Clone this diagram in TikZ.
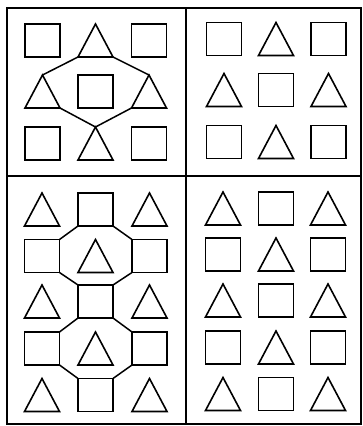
\documentclass[tikz,border=0pt]{standalone}
\begin{document}
\begin{tikzpicture}[x=1pt,y=-1pt,
  cell/.style={minimum width=35pt,minimum height=33pt,inner sep=0pt,outer sep=0pt},
  shape0/.style={cell,draw,line width=1.6pt},
  shape1/.style={cell},
  tri/.style={line width=1.6pt},
  link/.style={line width=1.5pt},
  frame/.style={line width=1.3pt}]
\useasboundingbox (0,0) rectangle (363,426);
% frame
\draw[frame] (7,8) rectangle (361,424);
\draw[frame] (186,8) -- (186,424);
\draw[frame] (7,176) -- (361,176);
% top-left quadrant
\foreach \r/\y in {1/40.5,2/91.5,3/143.5}
  \foreach \c/\x in {1/42.5,2/95.5,3/149}{
    \pgfmathsetmacro\k{int(mod(\r+\c,2))}
    \node[shape\k] (a\r\c) at (\x,\y) {};
  }
% top-right quadrant
\foreach \r/\y in {1/39,2/90,3/142}
  \foreach \c/\x in {1/224,2/276,3/328.5}{
    \pgfmathsetmacro\k{int(mod(\r+\c,2))}
    \node[shape\k] (b\r\c) at (\x,\y) {};
  }
% bottom-left quadrant
\foreach \r/\y in {1/209.5,2/256,3/301.5,4/348.5,5/395}
  \foreach \c/\x in {1/42,2/95.5,3/149.5}{
    \pgfmathsetmacro\k{int(mod(\r+\c+1,2))}
    \node[shape\k] (c\r\c) at (\x,\y) {};
  }
% bottom-right quadrant
\foreach \r/\y in {1/208.5,2/254.5,3/300.5,4/347.5,5/394}
  \foreach \c/\x in {1/223,2/276,3/328}{
    \pgfmathsetmacro\k{int(mod(\r+\c+1,2))}
    \node[shape\k] (d\r\c) at (\x,\y) {};
  }
% triangles
\foreach \n in {a12,a21,a23,a32,b12,b21,b23,b32,
  c11,c13,c22,c31,c33,c42,c51,c53,
  d11,d13,d22,d31,d33,d42,d51,d53}
  \draw[tri] (\n.north) -- (\n.south east) -- (\n.south west) -- cycle;
% hexagon in top-left
\draw[link] (a12.south west) -- (a21.north);
\draw[link] (a12.south east) -- (a23.north);
\draw[link] (a21.south east) -- (a32.north);
\draw[link] (a23.south west) -- (a32.north);
% octagons in bottom-left
\draw[link] (c12.south west) -- (c21.north east);
\draw[link] (c12.south east) -- (c23.north west);
\draw[link] (c21.south east) -- (c32.north west);
\draw[link] (c23.south west) -- (c32.north east);
\draw[link] (c32.south west) -- (c41.north east);
\draw[link] (c32.south east) -- (c43.north west);
\draw[link] (c41.south east) -- (c52.north west);
\draw[link] (c43.south west) -- (c52.north east);
\end{tikzpicture}
\end{document}
